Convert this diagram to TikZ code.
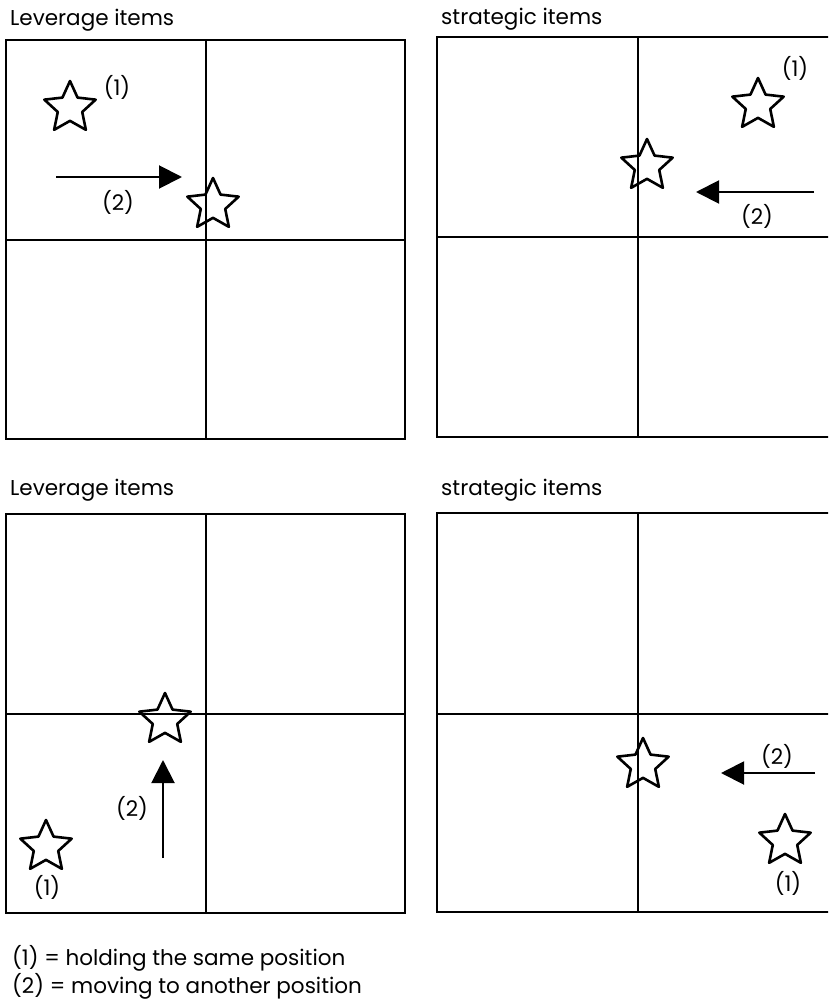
\documentclass[tikz,border=0pt]{standalone}
\usepackage{fontspec}
\setmainfont{Poppins}
\usetikzlibrary{shapes.geometric,arrows.meta}
\tikzset{
  box/.style={line width=2pt},
  divider/.style={line width=1.4pt},
  staritem/.style={star, star points=5, star point ratio=2.1, minimum size=54pt,
    inner sep=0pt, draw, line width=2.6pt, line join=round},
  lbl/.style={inner sep=0pt, font=\fontsize{21.5}{25}\selectfont},
  title/.style={inner sep=0pt, anchor=base west, font=\fontsize{21.5}{25}\selectfont},
  mover/.style={line width=2pt, -{Triangle[length=23pt,width=23pt]}},
}
\begin{document}
\begin{tikzpicture}[x=1pt,y=-1pt]
\useasboundingbox (0,0) rectangle (828,1000);
\clip (0,0) rectangle (828,1000);

% ---------- top left ----------
\node[title] (t1) at (10,26) {Leverage items};
\draw[box] (6,40) rectangle (405,439);
\draw[divider] (206,40) -- (206,439);
\draw[divider] (6,240) -- (405,240);
\node[staritem] (s1a) at (70,108) {};
\node[lbl] (l1a) at (117,87) {(1)};
\node[staritem] (s1b) at (213,205) {};
\coordinate (a1s) at (56,177);
\coordinate (a1e) at (182,177);
\draw[mover] (a1s) -- (a1e);
\node[lbl] (l1b) at (118,202) {(2)};

% ---------- top right ----------
\node[title] (t2) at (441,25) {strategic items};
\draw[box] (437,37) rectangle (838,437);
\draw[divider] (638,37) -- (638,437);
\draw[divider] (437,237) -- (838,237);
\node[staritem] (s2a) at (758,105) {};
\node[lbl] (l2a) at (795,68) {(1)};
\node[staritem] (s2b) at (647,166) {};
\coordinate (a2s) at (814,192);
\coordinate (a2e) at (696,192);
\draw[mover] (a2s) -- (a2e);
\node[lbl] (l2b) at (757,216) {(2)};

% ---------- bottom left ----------
\node[title] (t3) at (10,495) {Leverage items};
\draw[box] (6,514) rectangle (405,913);
\draw[divider] (206,514) -- (206,913);
\draw[divider] (6,714) -- (405,714);
\node[staritem] (s3a) at (165,720) {};
\coordinate (a3s) at (163,858);
\coordinate (a3e) at (163,760);
\draw[mover] (a3s) -- (a3e);
\node[lbl] (l3b) at (132,808) {(2)};
\node[staritem] (s3b) at (46,847) {};
\node[lbl] (l3a) at (47,887) {(1)};

% ---------- bottom right ----------
\node[title] (t4) at (441,495) {strategic items};
\draw[box] (437,513) rectangle (838,912);
\draw[divider] (638,513) -- (638,912);
\draw[divider] (437,714) -- (838,714);
\node[staritem] (s4a) at (643,765) {};
\coordinate (a4s) at (815,773);
\coordinate (a4e) at (721,773);
\draw[mover] (a4s) -- (a4e);
\node[lbl] (l4b) at (777,756) {(2)};
\node[staritem] (s4b) at (785,841) {};
\node[lbl] (l4a) at (788,883) {(1)};

% ---------- legend ----------
\node[title] (k1) at (12,965) {(1) = holding the same position};
\node[title] (k2) at (12,993) {(2) = moving to another position};
\end{tikzpicture}
\end{document}
